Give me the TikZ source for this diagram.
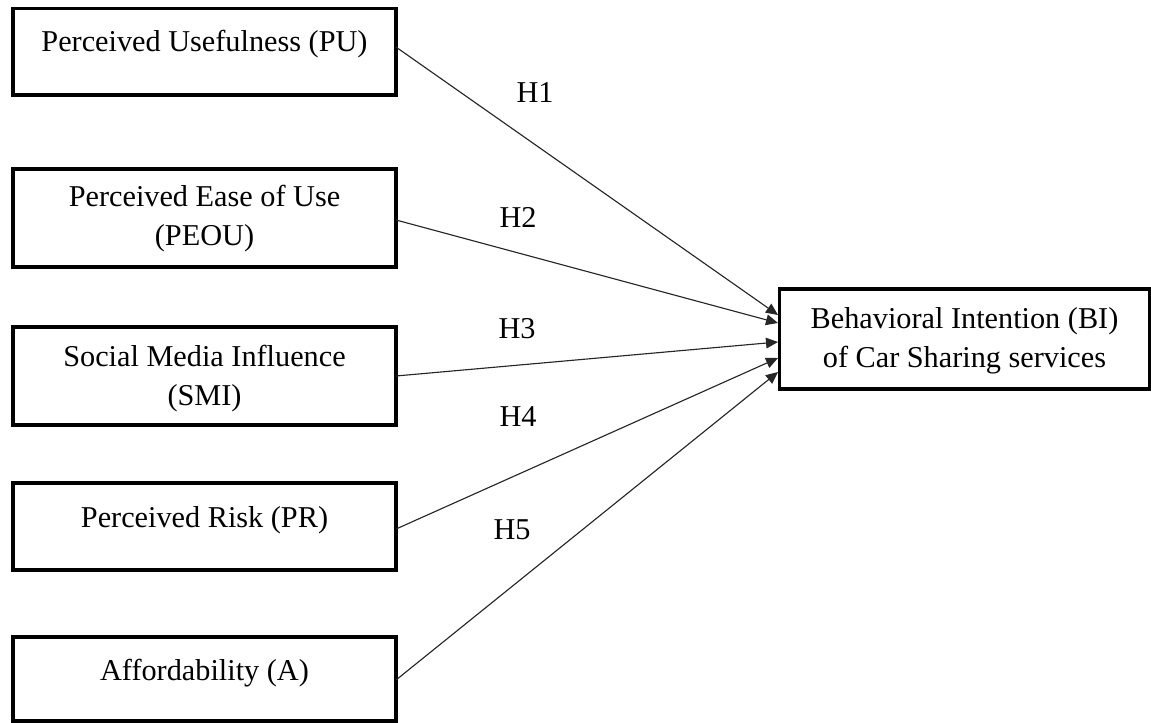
\documentclass[tikz,border=0pt]{standalone}
\usepackage{fontspec}
\setmainfont{Liberation Serif}
\usetikzlibrary{arrows.meta}
\begin{document}
\begin{tikzpicture}[x=0.75pt,y=-0.75pt,
  box/.style={draw, line width=2.5pt, inner sep=0pt, outer sep=0pt, minimum width=287.25pt},
  txt/.style={font=\fontsize{22.7}{29.25}\selectfont, anchor=base, inner sep=0pt, align=center},
  hlab/.style={font=\fontsize{22.7}{29.25}\selectfont, anchor=base, inner sep=0pt},
  conn/.style={draw, line width=0.85pt, color=black!85, -{Triangle[length=9pt,width=8pt]}}]
\useasboundingbox (0,0) rectangle (1151,723);
% left boxes
\node[box, minimum height=64.9pt] (pu) at (204.5,51.75) {};
\node[box, minimum height=73.5pt] (peou) at (204.5,218) {};
\node[box, minimum height=73.5pt] (smi) at (204.5,376) {};
\node[box, minimum height=65.25pt] (pr) at (204.5,526.5) {};
\node[box, minimum height=63pt] (af) at (204.5,679) {};
% right box
\node[box, minimum width=277.5pt, minimum height=75pt] (bi) at (964.5,339) {};
% texts
\node[txt] (put) at (204.5,52) {Perceived Usefulness (PU)};
\node[txt] (peout) at (204.5,246) {Perceived Ease of Use\\(PEOU)};
\node[txt] (smit) at (204.5,405) {Social Media Influence\\(SMI)};
\node[txt] (prt) at (204.5,527) {Perceived Risk (PR)};
\node[txt] (aft) at (204.5,680) {Affordability (A)};
\node[txt] (bit) at (964.5,367) {Behavioral Intention (BI)\\of Car Sharing services};
% arrow end points
\coordinate (e1) at (778,315);
\coordinate (e2) at (778,323);
\coordinate (e3) at (778,342);
\coordinate (e4) at (778,358);
\coordinate (e5) at (778,372);
% connectors
\draw[conn] ([yshift=3.5pt]pu.east) -- (e1);
\draw[conn] ([yshift=-1.5pt]peou.east) -- (e2);
\draw[conn] (smi.east) -- (e3);
\draw[conn] ([yshift=-1.9pt]pr.east) -- (e4);
\draw[conn] ([yshift=-0.75pt]af.east) -- (e5);
% labels
\node[hlab] (h1) at (535,103) {H1};
\node[hlab] (h2) at (518,228) {H2};
\node[hlab] (h3) at (517,338) {H3};
\node[hlab] (h4) at (518,426) {H4};
\node[hlab] (h5) at (512,539) {H5};
\end{tikzpicture}
\end{document}
